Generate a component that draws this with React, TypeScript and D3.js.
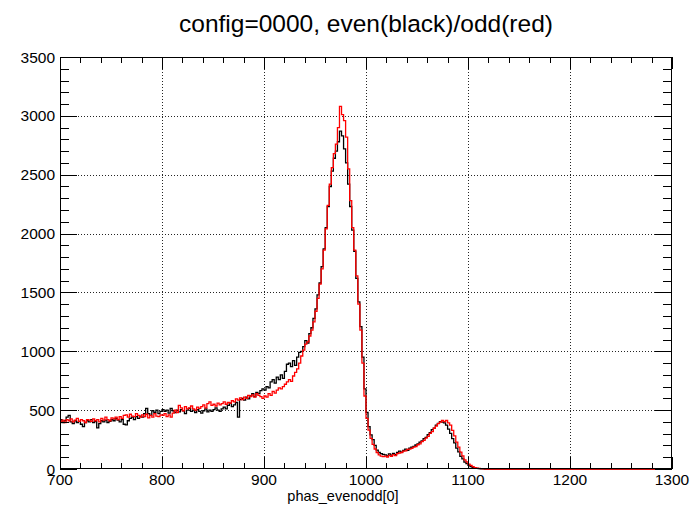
import React from "react";
import * as d3 from "d3";

const TITLE = "config=0000, even(black)/odd(red)";
const X_LABEL = "phas_evenodd[0]";
const X_DOMAIN = [700, 1300];
const Y_DOMAIN = [0, 3500];
const X_TICKS = [700, 800, 900, 1000, 1100, 1200, 1300];
const Y_TICKS = [0, 500, 1000, 1500, 2000, 2500, 3000, 3500];
const BIN_START = 700;
const BIN_WIDTH = 2;

// even (black), bins of width 2 starting at 700
const evenCounts = [
  // 700-758
  420, 395, 410, 440, 455, 400, 385, 410, 395, 405, 380, 360, 395, 410, 400,
  420, 395, 405, 350, 385, 410, 400, 415, 395, 405, 420, 410, 430, 415, 400,
  // 760-798
  420, 380, 375, 410, 430, 440, 420, 445, 430, 450, 440, 470, 515, 470, 455,
  495, 480, 500, 470, 490,
  // 800-858
  505, 490, 500, 475, 515, 495, 480, 500, 485, 505, 495, 470, 500, 515, 490,
  500, 480, 505, 490, 475, 495, 510, 485, 500, 490, 505, 520, 500, 490, 510,
  // 860-898
  525, 510, 540, 560, 530, 545, 565, 440, 590, 600, 585, 610, 595, 620, 640,
  615, 650, 640, 665, 680,
  // 900-948
  670, 700, 690, 740, 760, 730, 780, 760, 800, 770, 830, 890, 900, 870, 920,
  880, 950, 990, 1000, 1040, 1090, 1070, 1150, 1200, 1280,
  // 950-976
  1360, 1480, 1580, 1720, 1870, 2050, 2230, 2400, 2530, 2640, 2700, 2780, 2870, 2830,
  // 978-1118
  2720, 2600, 2420, 2230, 2030, 1850, 1620, 1420, 1210, 950,
  680, 480, 360, 290, 250, 200, 160, 140, 130, 125,
  120, 112, 128, 118, 132, 122, 140, 152, 143, 157,
  168, 158, 178, 186, 192, 204, 214, 228, 238, 258,
  268, 292, 308, 334, 348, 372, 388, 402, 398, 392,
  372, 338, 302, 258, 222, 178, 146, 108, 86, 58,
  45, 30, 20, 12, 8, 5, 3, 2, 1, 0, 0,
];

// odd (red), bins of width 2 starting at 700
const oddCounts = [
  // 700-758
  400, 415, 395, 420, 410, 425, 400, 415, 430, 405, 420, 410, 395, 420, 415,
  405, 425, 410, 420, 400, 430, 415, 440, 420, 410, 435, 425, 440, 420, 445,
  // 760-798
  430, 455, 460, 440, 465, 450, 445, 470, 455, 440, 460, 445, 465, 435, 455,
  440, 470, 450, 445, 460,
  // 800-858
  455, 470, 445, 460, 440, 475, 500, 480, 540, 520, 495, 530, 510, 520, 535,
  510, 500, 525, 515, 530, 545, 520, 555, 570, 540, 550, 535, 560, 545, 555,
  // 860-898
  570, 550, 565, 560, 580, 570, 595, 585, 605, 590, 610, 600, 625, 615, 630,
  610, 640, 625, 615, 600,
  // 900-948
  620, 610, 640, 625, 660, 645, 670, 690, 680, 700, 720, 740, 760, 745, 790,
  820, 850, 900, 960, 1010, 1060, 1080, 1130, 1180, 1250,
  // 950-976
  1340, 1450, 1570, 1700, 1860, 2040, 2240, 2420, 2560, 2680, 2760, 2900, 3080, 3010,
  // 978-1118
  2960, 2820, 2550, 2280, 2050, 1860, 1640, 1400, 1180, 900,
  620, 430, 330, 260, 210, 170, 140, 120, 110, 105,
  110, 102, 116, 108, 122, 114, 130, 136, 140, 152,
  154, 166, 168, 176, 186, 190, 206, 214, 232, 244,
  262, 278, 302, 318, 346, 364, 386, 398, 412, 402,
  412, 392, 372, 328, 282, 228, 186, 144, 112, 78,
  60, 42, 30, 20, 12, 8, 5, 3, 2, 1, 0,
];

// empty bins 1120-1298
const tailCounts = [
  0, 0, 0, 0, 0, 0, 0, 0, 0, 0, 0, 0, 0, 0, 0, 0, 0, 0, 0, 0, 0, 0, 0, 0, 0, 0, 0, 0, 0, 0,
  0, 0, 0, 0, 0, 0, 0, 0, 0, 0, 0, 0, 0, 0, 0, 0, 0, 0, 0, 0, 0, 0, 0, 0, 0, 0, 0, 0, 0, 0,
  0, 0, 0, 0, 0, 0, 0, 0, 0, 0, 0, 0, 0, 0, 0, 0, 0, 0, 0, 0, 0, 0, 0, 0, 0, 0, 0, 0, 0, 0,
];

const W = 693;
const H = 506;
const M = { left: 60, right: 672, top: 57, bottom: 469 };
const FONT = "'Liberation Sans', Arial, Helvetica, sans-serif";

export default function App() {
  const x = d3.scaleLinear().domain(X_DOMAIN).range([M.left, M.right]);
  const y = d3.scaleLinear().domain(Y_DOMAIN).range([M.bottom, M.top]);

  const stepPath = (counts: number[]) => {
    const all = counts.concat(tailCounts);
    const pts: [number, number][] = all.map((v, i) => [BIN_START + i * BIN_WIDTH, v]);
    const lastEdge = BIN_START + all.length * BIN_WIDTH;
    pts.push([Math.min(lastEdge, X_DOMAIN[1]), all[all.length - 1]]);
    return d3
      .line<[number, number]>()
      .x((d) => x(d[0]))
      .y((d) => y(d[1]))
      .curve(d3.curveStepAfter)(pts) as string;
  };

  const xMinor: number[] = [];
  for (let v = X_DOMAIN[0]; v <= X_DOMAIN[1]; v += 20) if (v % 100 !== 0) xMinor.push(v);
  const yMinor: number[] = [];
  for (let v = Y_DOMAIN[0]; v <= Y_DOMAIN[1]; v += 100) if (v % 500 !== 0) yMinor.push(v);

  return (
    <svg
      width={W}
      height={H}
      style={{ position: "absolute", left: 0, top: 0, background: "#fff" }}
      fontFamily={FONT}
    >
      <rect x={0} y={0} width={W} height={H} fill="#fff" />
      <defs>
        <clipPath id="plotclip">
          <rect x={M.left} y={M.top - 1} width={M.right - M.left} height={M.bottom - M.top + 2} />
        </clipPath>
      </defs>
      {/* grid */}
      <g stroke="#000" strokeWidth={1} strokeDasharray="1 2" opacity={0.85}>
        {X_TICKS.filter((t) => t > X_DOMAIN[0] && t < X_DOMAIN[1]).map((t) => (
          <line key={"gx" + t} x1={Math.round(x(t)) + 0.5} x2={Math.round(x(t)) + 0.5} y1={M.top} y2={M.bottom} />
        ))}
        {Y_TICKS.filter((t) => t > Y_DOMAIN[0] && t < Y_DOMAIN[1]).map((t) => (
          <line key={"gy" + t} x1={M.left} x2={M.right} y1={Math.round(y(t)) + 0.5} y2={Math.round(y(t)) + 0.5} />
        ))}
      </g>
      {/* histograms */}
      <g clipPath="url(#plotclip)" fill="none">
        <path d={stepPath(evenCounts)} stroke="#000" strokeWidth={1.3} />
        <path d={stepPath(oddCounts)} stroke="#ff0000" strokeWidth={1.3} />
      </g>
      {/* frame */}
      <rect
        x={M.left + 0.5}
        y={M.top + 0.5}
        width={M.right - M.left - 1}
        height={M.bottom - M.top - 1}
        fill="none"
        stroke="#000"
        strokeWidth={1}
      />
      {/* ticks */}
      <g stroke="#000" strokeWidth={1}>
        {X_TICKS.map((t) => (
          <React.Fragment key={"xt" + t}>
            <line x1={Math.round(x(t)) + 0.5} x2={Math.round(x(t)) + 0.5} y1={M.bottom} y2={M.bottom - 12} />
            <line x1={Math.round(x(t)) + 0.5} x2={Math.round(x(t)) + 0.5} y1={M.top} y2={M.top + 12} />
          </React.Fragment>
        ))}
        {xMinor.map((t) => (
          <React.Fragment key={"xm" + t}>
            <line x1={Math.round(x(t)) + 0.5} x2={Math.round(x(t)) + 0.5} y1={M.bottom} y2={M.bottom - 6} />
            <line x1={Math.round(x(t)) + 0.5} x2={Math.round(x(t)) + 0.5} y1={M.top} y2={M.top + 6} />
          </React.Fragment>
        ))}
        {Y_TICKS.map((t) => (
          <React.Fragment key={"yt" + t}>
            <line x1={M.left} x2={M.left + 17} y1={Math.round(y(t)) + 0.5} y2={Math.round(y(t)) + 0.5} />
            <line x1={M.right} x2={M.right - 17} y1={Math.round(y(t)) + 0.5} y2={Math.round(y(t)) + 0.5} />
          </React.Fragment>
        ))}
        {yMinor.map((t) => (
          <React.Fragment key={"ym" + t}>
            <line x1={M.left} x2={M.left + 9} y1={Math.round(y(t)) + 0.5} y2={Math.round(y(t)) + 0.5} />
            <line x1={M.right} x2={M.right - 9} y1={Math.round(y(t)) + 0.5} y2={Math.round(y(t)) + 0.5} />
          </React.Fragment>
        ))}
      </g>
      {/* tick labels */}
      <g fontSize={15.5} fill="#000">
        {X_TICKS.map((t) => (
          <text key={"xl" + t} x={x(t)} y={M.bottom + 16} textAnchor="middle">
            {t}
          </text>
        ))}
        {Y_TICKS.map((t) => (
          <text key={"yl" + t} x={M.left - 5} y={y(t) + 5.5} textAnchor="end">
            {t}
          </text>
        ))}
      </g>
      <text x={343} y={501} textAnchor="middle" fontSize={14.5} fill="#000">
        {X_LABEL}
      </text>
      <text x={366} y={32} textAnchor="middle" fontSize={24.5} fill="#000">
        {TITLE}
      </text>
    </svg>
  );
}
